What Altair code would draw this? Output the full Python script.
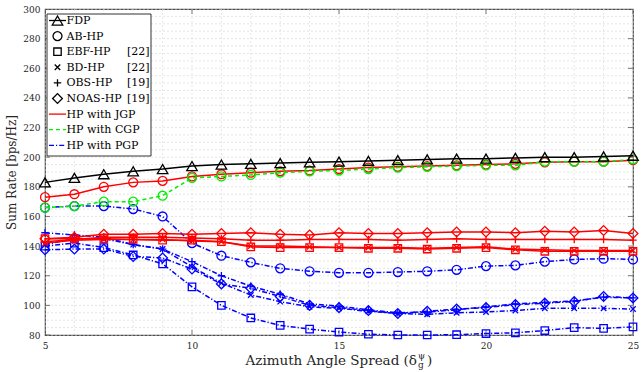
import altair as alt
import pandas as pd

# Azimuth angle spread values (x axis)
spread = list(range(5, 26))

# Sum rate [bps/Hz] per scheme
fdp = [183, 186, 188.5, 190.5, 192, 194, 195, 195.5, 196, 196.5, 197, 197.5, 198, 198.5,
       199, 199, 199.5, 200, 200, 200.5, 201]

ab_jgp = [173, 175, 180, 183, 184, 187, 188.5, 189.5, 190.5, 191, 192, 193, 193.5, 194,
          194.5, 195, 195.5, 196.5, 197, 197, 198]
ebf_jgp = [145, 145, 145, 144.5, 144, 144, 143, 139.5, 139, 139, 139, 138.5, 138.5, 138,
           138.5, 139, 137.5, 136.5, 136.5, 136.5, 136.5]
bd_jgp = [142, 144, 144.5, 144.5, 144.5, 143.5, 143, 140, 140, 139.5, 139, 139, 139, 138.5,
          139, 139.5, 138, 137.5, 137, 137, 137]
obs_jgp = [143, 144.5, 146, 146, 146, 145.5, 145, 144, 144, 144.5, 144.5, 144.5, 144, 144.5,
           145, 144.5, 144.5, 144.5, 144.5, 144.5, 144]
noas_jgp = [145, 146, 148, 148, 148.5, 148, 148.5, 149, 148, 147.5, 149, 148.5, 148.5, 149,
            149.5, 149.5, 149, 150, 149.5, 150.5, 148.5]

ab_cgp = [166, 167, 170, 170, 174, 186, 187, 188, 189.5, 190.5, 191, 192, 193, 193.5, 194,
          194.5, 194.5, 197, 197, 197, 198.5]

ab_pgp = [166, 167, 167, 165, 160, 142, 133.5, 129, 125, 123, 122, 122, 122.5, 123, 124,
          126.5, 127, 129.5, 131, 131.5, 131]
ebf_pgp = [140, 142, 139, 134, 128, 112.5, 100, 91.5, 86.5, 84, 82, 80.5, 80, 80, 80.2, 81,
           81.5, 83, 85, 84.5, 85.5]
bd_pgp = [141, 145, 145, 141, 138, 126, 115, 107, 102.5, 99, 98, 96, 94.5, 94, 95, 95.5,
          96.5, 98, 98, 98, 97.5]
obs_pgp = [149, 147.5, 146, 141, 138, 129.5, 120, 113, 107.5, 101, 99.5, 97, 95, 95.5, 97,
           99, 101, 102, 103, 105.5, 105]
noas_pgp = [137.5, 138, 138, 133, 132, 124.5, 114.5, 111.5, 106, 100, 98.5, 96.5, 94.5, 96,
            97.5, 98.5, 100.5, 101.5, 102.5, 106, 105]

legend_labels = ["FDP", "AB-HP", "EBF-HP", "BD-HP", "OBS-HP", "NOAS-HP",
                 "HP with JGP", "HP with CGP", "HP with PGP"]
legend_cites = ["", "", "[22]", "[22]", "[19]", "[19]", "", "", ""]

x_ticks = [5, 10, 15, 20, 25]
y_ticks = list(range(80, 301, 20))
grid_x = list(range(5, 26))
grid_y = list(range(80, 301, 5))

SERIF = "DejaVu Serif"
PLUS = "M-1,0L1,0M0,-1L0,1"
CROSS = "M-1,-1L1,1M-1,1L1,-1"

marker = {
    "FDP": ("triangle-up", 110),
    "AB": ("circle", 80),
    "EBF": ("square", 55),
    "BD": (CROSS, 30),
    "OBS": (PLUS, 55),
    "NOAS": ("diamond", 95),
}
scheme_style = {
    "FDP": ("#000000", None),
    "JGP": ("#ff0000", None),
    "CGP": ("#00ee00", [4, 3]),
    "PGP": ("#0000ff", [5, 2, 1.2, 2]),
}

# drawing order: PGP underneath, FDP on top
series = [
    ("AB", "PGP", ab_pgp), ("EBF", "PGP", ebf_pgp), ("BD", "PGP", bd_pgp),
    ("OBS", "PGP", obs_pgp), ("NOAS", "PGP", noas_pgp),
    ("AB", "JGP", ab_jgp), ("EBF", "JGP", ebf_jgp), ("BD", "JGP", bd_jgp),
    ("OBS", "JGP", obs_jgp), ("NOAS", "JGP", noas_jgp),
    ("AB", "CGP", ab_cgp),
    ("FDP", "FDP", fdp),
]

xs = alt.Scale(domain=[5, 25], nice=False, zero=False)
ys = alt.Scale(domain=[80, 300], nice=False, zero=False)

x_axis = alt.Axis(values=x_ticks, grid=False, ticks=False, domain=False, labelFont=SERIF,
                  labelFontSize=9, labelColor="#262626", labelPadding=6, title=None,
                  labelOverlap=False, labelFlush=False)
y_axis = alt.Axis(values=y_ticks, grid=False, ticks=False, domain=False, labelFont=SERIF,
                  labelFontSize=9, labelColor="#262626", labelPadding=5,
                  labelOverlap=False, labelFlush=False,
                  title="Sum Rate [bps/Hz]", titleFont=SERIF, titleFontSize=12,
                  titleFontWeight="normal", titleColor="#262626", titlePadding=4)


def X(field):
    return alt.X(field, scale=xs, axis=x_axis, title=None)


def Y(field):
    return alt.Y(field, scale=ys, axis=y_axis, title="Sum Rate [bps/Hz]")


layers = []

# dashed grid
layers.append(
    alt.Chart(pd.DataFrame({"gx": grid_x})).mark_rule(
        color="#dedede", strokeDash=[2, 2], strokeWidth=0.8
    ).encode(x=X("gx:Q"))
)
layers.append(
    alt.Chart(pd.DataFrame({"gy": grid_y})).mark_rule(
        color="#dedede", strokeDash=[2, 2], strokeWidth=0.8
    ).encode(y=Y("gy:Q"))
)

# inward ticks on all four sides (outer half clipped away)
tick_style = dict(color="#404040", thickness=1, size=10, clip=True)
y_edge = lambda v: alt.YDatum(v, scale=ys, axis=y_axis)
x_edge = lambda v: alt.XDatum(v, scale=xs, axis=x_axis)
layers.append(alt.Chart(pd.DataFrame({"tx": x_ticks})).mark_tick(orient="vertical", **tick_style)
              .encode(x=X("tx:Q"), y=y_edge(80)))
layers.append(alt.Chart(pd.DataFrame({"tx": x_ticks})).mark_tick(orient="vertical", **tick_style)
              .encode(x=X("tx:Q"), y=y_edge(300)))
layers.append(alt.Chart(pd.DataFrame({"ty": y_ticks})).mark_tick(orient="horizontal", **tick_style)
              .encode(y=Y("ty:Q"), x=x_edge(5)))
layers.append(alt.Chart(pd.DataFrame({"ty": y_ticks})).mark_tick(orient="horizontal", **tick_style)
              .encode(y=Y("ty:Q"), x=x_edge(25)))

# curves with open markers
for method, scheme, vals in series:
    df = pd.DataFrame({"spread": spread, "rate": vals})
    color, dash = scheme_style[scheme]
    shape, size = marker[method]
    line_kw = dict(color=color, strokeWidth=1.5)
    if dash:
        line_kw["strokeDash"] = dash
    enc = dict(x=X("spread:Q"), y=Y("rate:Q"))
    layers.append(alt.Chart(df).mark_line(**line_kw).encode(**enc))
    layers.append(alt.Chart(df).mark_point(shape=shape, size=size, filled=False, color=color,
                                           strokeWidth=1.3, opacity=1).encode(**enc))

# x-axis title with sub/superscript
one = alt.Data(values=[{}])
ty = 352
tx = 372
layers.append(alt.Chart(one).mark_text(text="Azimuth Angle Spread (δ", font=SERIF, fontSize=13.5,
                                       align="right", baseline="middle", color="#262626")
              .encode(x=alt.value(tx), y=alt.value(ty)))
layers.append(alt.Chart(one).mark_text(text="ψ", font=SERIF, fontSize=9, align="left",
                                       baseline="middle", color="#262626")
              .encode(x=alt.value(tx + 1), y=alt.value(ty - 5)))
layers.append(alt.Chart(one).mark_text(text="g", font=SERIF, fontSize=9, align="left",
                                       baseline="middle", color="#262626")
              .encode(x=alt.value(tx + 1), y=alt.value(ty + 4)))
layers.append(alt.Chart(one).mark_text(text=")", font=SERIF, fontSize=13.5, align="left",
                                       baseline="middle", color="#262626")
              .encode(x=alt.value(tx + 10), y=alt.value(ty)))

# legend box
layers.append(alt.Chart(one).mark_rect(fill="white", stroke="#333333", strokeWidth=1)
              .encode(x=alt.value(2), x2=alt.value(106), y=alt.value(5), y2=alt.value(147)))

legend_markers = ["FDP", "AB", "EBF", "BD", "OBS", "NOAS", None, None, None]
legend_lines = ["FDP", None, None, None, None, None, "JGP", "CGP", "PGP"]
row0, row_step = 11.5, 15.6
for i, label in enumerate(legend_labels):
    yy = row0 + row_step * i
    if legend_lines[i]:
        color, dash = scheme_style[legend_lines[i]]
        kw = dict(color=color, strokeWidth=1.3)
        if dash:
            kw["strokeDash"] = dash
        layers.append(alt.Chart(one).mark_rule(**kw).encode(
            x=alt.value(4), x2=alt.value(21), y=alt.value(yy)))
    if legend_markers[i]:
        shape, size = marker[legend_markers[i]]
        layers.append(alt.Chart(one).mark_point(shape=shape, size=size, filled=False,
                                                color="#000000", strokeWidth=1.3, opacity=1)
                      .encode(x=alt.value(12.5), y=alt.value(yy)))
    layers.append(alt.Chart(one).mark_text(text=label, font=SERIF, fontSize=11, align="left",
                                           baseline="middle", color="#000000")
                  .encode(x=alt.value(21.5), y=alt.value(yy + 0.5)))
    if legend_cites[i]:
        layers.append(alt.Chart(one).mark_text(text=legend_cites[i], font=SERIF, fontSize=11,
                                               align="right", baseline="middle", color="#000000")
                      .encode(x=alt.value(104.5), y=alt.value(yy + 0.5)))

chart = alt.layer(*layers).properties(
    width=588, height=326,
    padding={"left": 45, "top": 9, "right": 10, "bottom": 37},
    autosize=alt.AutoSizeParams(type="none"),
    background="white",
).configure_view(
    stroke="#4d4d4d", strokeWidth=1.2
).configure_axis(
    labelOverlap=False, labelFlush=False
)

chart.save("out.html", embed_options={"renderer": "svg", "actions": False})
